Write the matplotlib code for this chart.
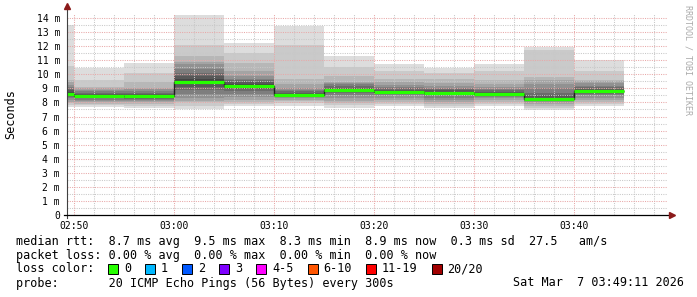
import matplotlib
matplotlib.use("Agg")
import matplotlib.pyplot as plt
from matplotlib.patches import Rectangle
import numpy as np

plt.rcParams['font.family'] = 'DejaVu Sans Mono'

# 300 s steps (start time of each step)
step_start = ["02:45", "02:50", "02:55", "03:00", "03:05", "03:10",
              "03:15", "03:20", "03:25", "03:30", "03:35", "03:40"]

# 20 sorted ping rtts (ms) per step
rtt_0245 = [7.7, 7.85, 7.95, 8.05, 8.15, 8.3, 8.4, 8.5, 8.55, 8.6, 8.65, 8.75, 8.85, 8.95, 9.1, 9.25, 9.45, 9.6, 10.6, 13.5]
rtt_0250 = [7.65, 7.8, 7.9, 8.0, 8.1, 8.2, 8.3, 8.38, 8.43, 8.45, 8.48, 8.52, 8.6, 8.7, 8.8, 8.9, 9.0, 9.1, 9.6, 10.43]
rtt_0255 = [7.6, 7.75, 7.9, 8.0, 8.1, 8.2, 8.28, 8.35, 8.4, 8.42, 8.45, 8.5, 8.6, 8.7, 8.8, 8.95, 9.05, 9.45, 10.07, 10.83]
rtt_0300 = [7.5, 7.75, 8.0, 8.1, 8.3, 8.6, 8.9, 9.1, 9.3, 9.4, 9.5, 9.65, 9.85, 10.1, 10.4, 10.7, 10.9, 11.3, 12.1, 14.2]
rtt_0305 = [7.75, 7.9, 8.05, 8.2, 8.4, 8.6, 8.8, 8.95, 9.05, 9.15, 9.2, 9.3, 9.45, 9.6, 9.7, 9.9, 10.2, 10.8, 11.5, 12.2]
rtt_0310 = [7.75, 7.95, 8.1, 8.2, 8.3, 8.4, 8.45, 8.5, 8.52, 8.53, 8.55, 8.6, 8.7, 8.8, 8.9, 9.0, 9.3, 9.7, 12.1, 13.4]
rtt_0315 = [7.6, 7.8, 7.95, 8.1, 8.3, 8.5, 8.65, 8.75, 8.82, 8.86, 8.9, 8.95, 9.05, 9.15, 9.3, 9.4, 9.47, 9.9, 10.5, 11.3]
rtt_0320 = [7.75, 7.9, 8.05, 8.2, 8.35, 8.5, 8.6, 8.68, 8.72, 8.75, 8.78, 8.82, 8.9, 9.0, 9.1, 9.25, 9.45, 9.7, 10.2, 10.73]
rtt_0325 = [7.6, 7.75, 7.9, 8.05, 8.2, 8.35, 8.5, 8.6, 8.66, 8.69, 8.72, 8.76, 8.85, 8.95, 9.05, 9.2, 9.36, 9.7, 10.1, 10.45]
rtt_0330 = [7.75, 7.9, 8.05, 8.2, 8.3, 8.4, 8.48, 8.54, 8.58, 8.6, 8.62, 8.66, 8.75, 8.85, 8.95, 9.08, 9.3, 9.6, 10.2, 10.73]
rtt_0335 = [7.46, 7.6, 7.75, 7.9, 8.0, 8.1, 8.17, 8.22, 8.25, 8.27, 8.29, 8.35, 8.5, 8.7, 9.0, 9.3, 9.6, 9.8, 11.7, 11.96]
rtt_0340 = [7.75, 7.9, 8.05, 8.2, 8.35, 8.5, 8.62, 8.72, 8.78, 8.82, 8.85, 8.9, 8.98, 9.08, 9.2, 9.35, 9.5, 9.6, 10.2, 11.0]

median_rtt = [8.62, 8.46, 8.43, 9.45, 9.17, 8.53, 8.88, 8.76, 8.70, 8.60, 8.27, 8.83]

tick_times = ["02:50", "03:00", "03:10", "03:20", "03:30", "03:40"]
view_start, view_end = "02:49:18", "03:49:18"

loss_labels = ["0", "1", "2", "3", "4-5", "6-10", "11-19", "20/20"]
loss_colors = ["#26ff00", "#00b8ff", "#0059ff", "#7e00ff", "#ff00ff", "#ff5500", "#ff0000", "#a10000"]

legend_lines = [
    "median rtt:  8.7 ms avg  9.5 ms max  8.3 ms min  8.9 ms now  0.3 ms sd  27.5   am/s",
    "packet loss: 0.00 % avg  0.00 % max  0.00 % min  0.00 % now",
    "loss color:",
    "probe:       20 ICMP Echo Pings (56 Bytes) every 300s",
]
stamp = "Sat Mar  7 03:49:11 2026"


def to_min(t):
    parts = [int(p) for p in t.split(":")]
    m = parts[0] * 60 + parts[1]
    if len(parts) > 2:
        m += parts[2] / 60
    return m


W, H = 697, 297
fig = plt.figure(figsize=(W / 100, H / 100), dpi=100)


def fx(x):
    return x / W


def fy(y):
    return 1 - y / H


ax = fig.add_axes([fx(67), fy(215), fx(667) - fx(67), fy(13.8) - fy(215)])

pings = np.array([rtt_0245, rtt_0250, rtt_0255, rtt_0300, rtt_0305, rtt_0310,
                  rtt_0315, rtt_0320, rtt_0325, rtt_0330, rtt_0335, rtt_0340])
starts = np.array([to_min(t) for t in step_start])
edges = np.append(starts, starts[-1] + 5)

# smoke: outer pairs light, inner pairs dark
half = pings.shape[1] // 2
for i in range(half):
    g = int(190 / half * (half - (i + 1))) + 50
    col = "#%02x%02x%02x" % (g, g, g)
    ax.stairs(pings[:, -1 - i], edges, baseline=pings[:, i], fill=True,
              color=col, lw=0, zorder=1)

# grid on top of smoke
x0, x1 = to_min(view_start), to_min(view_end)
for m in np.arange(170, x1, 2):
    if m % 10:
        ax.axvline(m, color="#c8c8c8", lw=0.75, ls=(0, (1, 1.2)), zorder=2)
for v in np.arange(0.5, 14.3, 1.0):
    ax.axhline(v, color="#c8c8c8", lw=0.75, ls=(0, (1, 1.2)), zorder=2)
for m in np.arange(170, x1, 10):
    ax.axvline(m, color="#e8a8a8", lw=0.75, ls=(0, (1, 1.2)), zorder=2)
for v in range(1, 15):
    ax.axhline(v, color="#e8a8a8", lw=0.75, ls=(0, (1, 1.2)), zorder=2)

# median
ax.stairs(median_rtt, edges, baseline=None, color="#202020", lw=1.0, zorder=3)
ax.hlines(median_rtt, edges[:-1], edges[1:], color=loss_colors[0], lw=2.3, zorder=4)

ax.set_xlim(x0, x1)
ax.set_ylim(0, 14.3)
ax.set_xticks([to_min(t) for t in tick_times])
ax.set_xticklabels(tick_times, fontsize=7)
yt = list(range(0, 15))
ax.set_yticks(yt)
ax.set_yticklabels(["0"] + [f"{v} m" for v in yt[1:]], fontsize=7)
ax.tick_params(length=0, pad=5, colors="#000000")
ax.tick_params(axis="x", pad=4)
for s in ax.spines.values():
    s.set_visible(False)

# axes with arrows
ax.plot([0, 0], [-0.015, 1.035], transform=ax.transAxes, color="#404040",
        lw=0.8, clip_on=False, zorder=5)
ax.plot([-0.005, 1.005], [0, 0], transform=ax.transAxes, color="#000000",
        lw=0.9, clip_on=False, zorder=5)
ax.plot([0], [1.04], transform=ax.transAxes, marker="^", color="#8b1a1a",
        ms=4, clip_on=False, zorder=6)
ax.plot([1.008], [0], transform=ax.transAxes, marker=">", color="#8b1a1a",
        ms=4, clip_on=False, zorder=6)

fig.text(fx(11), fy(114), "Seconds", rotation=90, fontsize=8.5, ha="center", va="center")
fig.text(fx(688), fy(5), "RRDTOOL / TOBI OETIKER", rotation=270, fontsize=6,
         color="#aaaaaa", ha="center", va="top")

line_y = [241, 255, 269, 283]
for txt, y in zip(legend_lines, line_y):
    fig.text(fx(16), fy(y), txt, fontsize=8.5, ha="left", va="center")
fig.text(fx(513), fy(line_y[3]), stamp, fontsize=8.5, ha="left", va="center")

cw = 7.1
x = 108
for lab, col in zip(loss_labels, loss_colors):
    fig.patches.append(Rectangle((fx(x), fy(line_y[2] + 5)), fx(10), 10 / H,
                                 transform=fig.transFigure, fc=col, ec="#000000", lw=0.7))
    fig.text(fx(x + 16), fy(line_y[2]), lab, fontsize=8.5, ha="left", va="center")
    x += 16 + len(lab) * cw + 14

fig.savefig("out.png", dpi=100, facecolor="white")
